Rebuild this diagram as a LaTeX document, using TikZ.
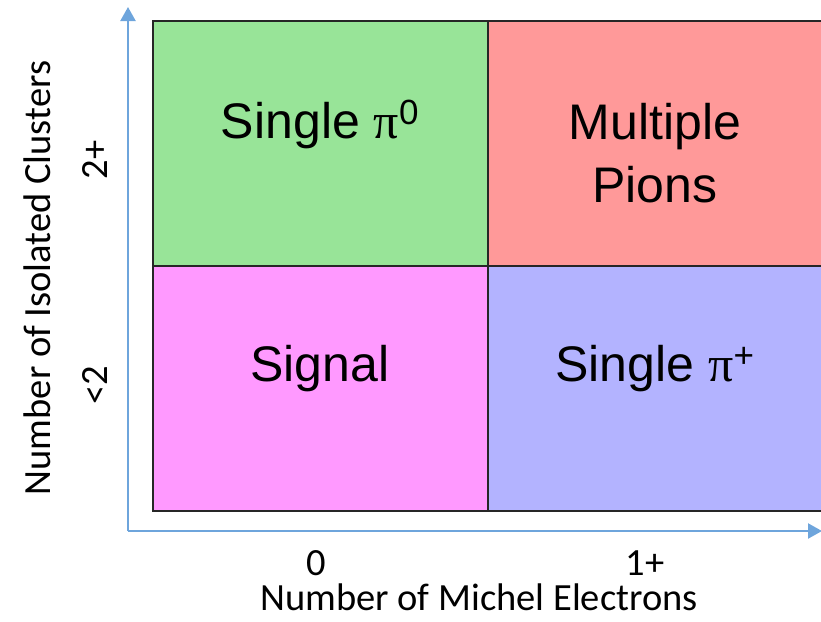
\documentclass[tikz,border=0pt]{standalone}
\usepackage{fontspec}
\setmainfont{Liberation Sans}
\newfontfamily\calfont{Carlito}
\newfontfamily\pifont{Liberation Serif}
\usetikzlibrary{arrows.meta}
\definecolor{cellgreen}{RGB}{152,228,152}
\definecolor{cellred}{RGB}{255,153,153}
\definecolor{cellpink}{RGB}{255,153,255}
\definecolor{cellblue}{RGB}{179,179,255}
\definecolor{axisblue}{RGB}{110,165,220}
\newcommand{\piname}[1]{{\pifont π}\raisebox{0.1em}{\textsuperscript{#1}}}
\begin{document}
\begin{tikzpicture}[x=1pt, y=-1pt,
  cell/.style={draw=black!85, line width=1.3pt},
  big/.style={font=\fontsize{50}{63}\selectfont, align=center},
  axlab/.style={font=\calfont\fontsize{38.5}{44}\selectfont},
  axis/.style={draw=axisblue, line width=2.2pt, -{Triangle[length=14pt,width=15pt]}}
]
\useasboundingbox (0,0) rectangle (821,621);

% the four cells
\fill[cellgreen] (153,21)  rectangle (488,266);
\fill[cellred]   (488,21)  rectangle (830,266);
\fill[cellpink]  (153,266) rectangle (488,511);
\fill[cellblue]  (488,266) rectangle (830,511);
\draw[cell] (153,21) rectangle (830,511);
\draw[cell] (488,21) -- (488,511);
\draw[cell] (153,266) -- (830,266);

\node[big] (pizero) at (320,124) {Single \piname{0}};
\node[big] (multi)  at (655,153) {Multiple\\Pions};
\node[big] (signal) at (320,369) {Signal};
\node[big] (piplus) at (655,369) {Single \piname{+}};

% axes
\coordinate (origin) at (128,531);
\coordinate (ytip) at (128,7);
\coordinate (xtip) at (822,531);
\draw[axis] (origin) -- (ytip);
\draw[axis] (origin) -- (xtip);

\node[axlab] (zero)  at (316,563) {0};
\node[axlab] (oneup) at (645,563) {1+};
\node[axlab, anchor=base, inner sep=0pt] (xlab) at (479,610) {Number of Michel Electrons};

\node[axlab, rotate=90] (twoup) at (95,160) {2+};
\node[axlab, rotate=90] (less)  at (95,385) {<2};
\node[axlab, rotate=90] (ylab)  at (37,278) {Number of Isolated Clusters};
\end{tikzpicture}
\end{document}
